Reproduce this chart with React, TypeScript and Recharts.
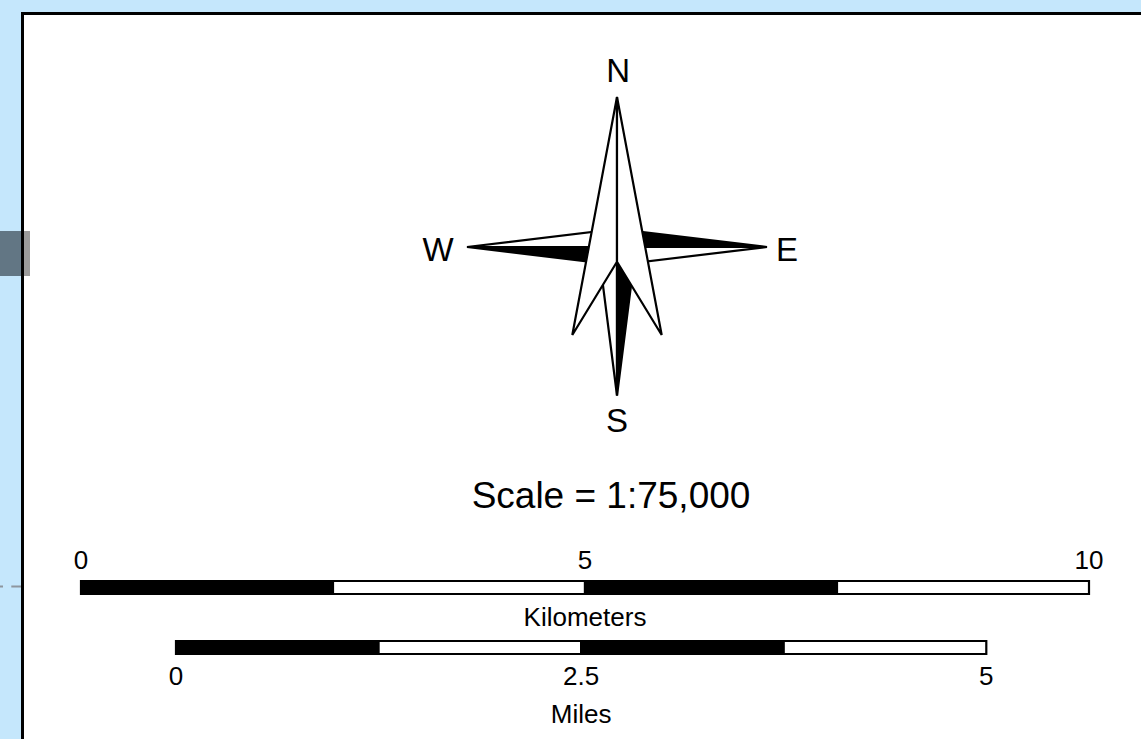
import React from 'react';
import { ScatterChart, Scatter, XAxis, YAxis, BarChart, Bar } from 'recharts';

const FONT = '"Liberation Sans", Arial, Helvetica, sans-serif';

// ---- Compass rose geometry (compass units: tip radius = 100) ----
const eastArmDark = [{ x: 0, y: 0 }, { x: 0, y: 12 }, { x: 100, y: 0 }];
const eastArmLight = [{ x: 0, y: 0 }, { x: 0, y: -12 }, { x: 100, y: 0 }];
const westArmLight = [{ x: 0, y: 0 }, { x: 0, y: 12 }, { x: -100, y: 0 }];
const westArmDark = [{ x: 0, y: 0 }, { x: 0, y: -12 }, { x: -100, y: 0 }];
const southLight = [{ x: 0, y: 0 }, { x: -12.6, y: 0 }, { x: 0, y: -99 }];
const southDark = [{ x: 0, y: 0 }, { x: 12.6, y: 0 }, { x: 0, y: -99 }];
const northLeft = [{ x: 0, y: 100 }, { x: -29.8, y: -58.7 }, { x: 0, y: -9.8 }];
const northRight = [{ x: 0, y: 100 }, { x: 29.8, y: -58.7 }, { x: 0, y: -9.8 }];

const compassLabels = [
  { x: 0.7, y: 110, label: 'N' },
  { x: 113.3, y: -9.3, label: 'E' },
  { x: 0, y: -123.3, label: 'S' },
  { x: -119.3, y: -9, label: 'W' },
];

// ---- Scale bars ----
const scaleTitle = 'Scale = 1:75,000';
const kmTicks = [0, 5, 10];
const kmSegments = [2.5, 2.5, 2.5, 2.5];
const mileTicks = [0, 2.5, 5];
const mileSegments = [1.25, 1.25, 1.25, 1.25];
const segmentFills = ['#000000', '#ffffff', '#000000', '#ffffff'];

const kmRow = [{ name: 'Kilometers', ...Object.fromEntries(kmSegments.map((v, i) => ['s' + i, v])) }];
const mileRow = [{ name: 'Miles', ...Object.fromEntries(mileSegments.map((v, i) => ['s' + i, v])) }];

const noDot = () => <g />;
const polygonLine = (fill: string) => (p: any) => {
  const pts = (p.points || []).map((q: any) => `${q.x},${q.y}`).join(' ');
  return <polygon points={pts} fill={fill} stroke="#000" strokeWidth={2.2} strokeLinejoin="miter" />;
};
const labelShape = (p: any) => (
  <text x={p.cx} y={p.cy} textAnchor="middle" fontSize={33} fontFamily={FONT} fill="#000">
    {p.payload.label}
  </text>
);

const polys: Array<[any[], string]> = [
  [eastArmDark, '#000'],
  [eastArmLight, '#fff'],
  [westArmLight, '#fff'],
  [westArmDark, '#000'],
  [southLight, '#fff'],
  [southDark, '#000'],
  [northLeft, '#fff'],
  [northRight, '#fff'],
];

const tickStyle = { fontSize: 26, fill: '#000', fontFamily: FONT };

export default function App() {
  return (
    <div style={{ position: 'absolute', left: 0, top: 0, width: 1141, height: 739, overflow: 'hidden', fontFamily: FONT }}>
      <svg width={1141} height={739} style={{ position: 'absolute', left: 0, top: 0 }}>
        <rect x={0} y={0} width={1141} height={739} fill="#C5E7FC" />
        <rect x={22.5} y={13.5} width={1130} height={740} fill="#fff" stroke="#000" strokeWidth={3} />
        <rect x={0} y={231} width={21} height={45} fill="#627684" />
        <rect x={21} y={231} width={9} height={45} fill="#9b9b9b" />
        <line x1={22.5} y1={229} x2={22.5} y2={278} stroke="#000" strokeWidth={3} />
        <line x1={0} y1={586.5} x2={21} y2={586.5} stroke="#8e969e" strokeWidth={2} strokeDasharray="10 8.3" strokeDashoffset={7} />
        <text x={611} y={508} textAnchor="middle" fontSize={37} fontFamily={FONT} fill="#000">{scaleTitle}</text>
      </svg>

      <div style={{ position: 'absolute', left: 417, top: 47 }}>
        <ScatterChart width={400} height={400} margin={{ top: 0, right: 0, bottom: 0, left: 0 }}>
          <XAxis type="number" dataKey="x" domain={[-133.333, 133.333]} allowDataOverflow hide />
          <YAxis type="number" dataKey="y" domain={[-133.333, 133.333]} allowDataOverflow hide />
          {polys.map(([d, f], i) => (
            <Scatter key={i} data={d} line={polygonLine(f)} lineType="joint" shape={noDot} isAnimationActive={false} />
          ))}
          <Scatter data={compassLabels} shape={labelShape} isAnimationActive={false} />
        </ScatterChart>
      </div>

      <div style={{ position: 'absolute', left: 0, top: 540 }}>
        <BarChart layout="vertical" width={1141} height={100} data={kmRow} margin={{ top: 0, right: 52, bottom: 0, left: 81 }}>
          <XAxis type="number" domain={[0, 10]} ticks={kmTicks} orientation="top" height={30} axisLine={false} tickLine={false} tickSize={0} tickMargin={1} interval={0} tick={tickStyle} />
          <XAxis xAxisId="title" type="number" domain={[0, 10]} orientation="bottom" height={35} axisLine={false} tickLine={false} tick={false}
            label={{ value: 'Kilometers', position: 'insideTop', offset: 3, fontSize: 26, fill: '#000', fontFamily: FONT }} />
          <YAxis type="category" dataKey="name" hide />
          {kmSegments.map((_, i) => (
            <Bar key={i} dataKey={'s' + i} stackId="km" fill={segmentFills[i]} stroke="#000" strokeWidth={2.2} barSize={13} isAnimationActive={false} />
          ))}
        </BarChart>
      </div>

      <div style={{ position: 'absolute', left: 0, top: 630 }}>
        <BarChart layout="vertical" width={1141} height={109} data={mileRow} margin={{ top: 0, right: 154.7, bottom: 0, left: 176 }}>
          <XAxis type="number" domain={[0, 5]} ticks={mileTicks} orientation="bottom" height={75} axisLine={false} tickLine={false} tickSize={0} tickMargin={3} interval={0} tick={tickStyle}
            label={{ value: 'Miles', position: 'insideTop', offset: 41, fontSize: 26, fill: '#000', fontFamily: FONT }} />
          <YAxis type="category" dataKey="name" hide />
          {mileSegments.map((_, i) => (
            <Bar key={i} dataKey={'s' + i} stackId="mi" fill={segmentFills[i]} stroke="#000" strokeWidth={2.2} barSize={13} isAnimationActive={false} />
          ))}
        </BarChart>
      </div>
    </div>
  );
}
